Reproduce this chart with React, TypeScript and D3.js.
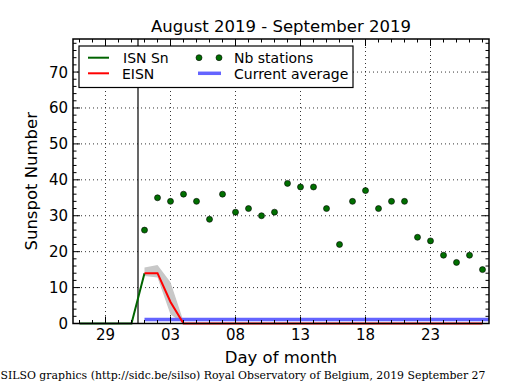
import React from "react";
import * as d3 from "d3";

// day index: Sep 1 = 1, Aug 31 = 0, Aug 29 = -2 ...
const isnDays = [-4, -3, -2, -1, 0, 1];
const isnValues = [0, 0, 0, 0, 0, 14];

const eisnDays = [1, 2, 3, 4, 5, 6, 7, 8, 9, 10, 11, 12, 13, 14, 15, 16, 17, 18, 19, 20, 21, 22, 23, 24, 25, 26, 27];
const eisnValues = [14, 14, 6, 0, 0, 0, 0, 0, 0, 0, 0, 0, 0, 0, 0, 0, 0, 0, 0, 0, 0, 0, 0, 0, 0, 0, 0];

const bandDays = [1, 2, 3, 4];
const bandLow = [13.2, 12.8, 2.5, 0];
const bandHigh = [15.6, 16.3, 11.5, 0.6];

const stationDays = eisnDays;
const stationValues = [26, 35, 34, 36, 34, 29, 36, 31, 32, 30, 31, 39, 38, 38, 32, 22, 34, 37, 32, 34, 34, 24, 23, 19, 17, 19, 15];

const currentAverage = 1.1;
const averageStart = 1;

const xTickDays = [-2, 3, 8, 13, 18, 23];
const xTickLabels = ["29", "03", "08", "13", "18", "23"];
const yTicks = [0, 10, 20, 30, 40, 50, 60, 70];

const monthBoundary = 0.5;

export default function App() {
	const layout = {"width": 515, "height": 390, "left": 73, "right": 489, "top": 39, "bottom": 323.5};

	const xScale = d3.scaleLinear().domain([-4.5, 27.5]).range([layout.left, layout.right]);
	const yScale = d3.scaleLinear().domain([0, 79.2]).range([layout.bottom, layout.top]);

	const line = d3.line<[number, number]>()
		.x(d => xScale(d[0]))
		.y(d => yScale(d[1]));

	const area = d3.area<number>()
		.x((d, i) => xScale(bandDays[i]))
		.y0((d, i) => yScale(bandLow[i]))
		.y1((d, i) => yScale(bandHigh[i]));

	const minorX = d3.range(-4, 28);
	const minorY = d3.range(0, 80, 2);

	const font = "DejaVu Sans, sans-serif";
	const [x0, x1] = xScale.domain();

	return (
		<svg width={layout.width} height={layout.height}
			style={{position: "absolute", left: 0, top: 0, background: "#fff"}}>
			<rect width={layout.width} height={layout.height} fill="#fff" />

			{/* grid */}
			<g stroke="#000" strokeWidth={0.8} strokeDasharray="1,3">
				{xTickDays.map(d => (
					<line key={"gx" + d} x1={xScale(d)} x2={xScale(d)} y1={layout.top} y2={layout.bottom} />
				))}
				{yTicks.map(v => (
					<line key={"gy" + v} x1={layout.left} x2={layout.right} y1={yScale(v)} y2={yScale(v)} />
				))}
			</g>

			{/* uncertainty band */}
			<path d={area(bandDays) || ""} fill="#c8c8c8" stroke="none" />

			{/* month boundary */}
			<line x1={xScale(monthBoundary)} x2={xScale(monthBoundary)} y1={layout.top} y2={layout.bottom}
				stroke="#000" strokeWidth={1.2} />

			{/* ISN */}
			<path d={line(isnDays.map((d, i) => [d, isnValues[i]])) || ""} fill="none" stroke="#006400" strokeWidth={2} />

			{/* current average */}
			<line x1={xScale(averageStart)} x2={xScale(x1)} y1={yScale(currentAverage)} y2={yScale(currentAverage)}
				stroke="#6464ff" strokeWidth={3.5} />

			{/* EISN */}
			<path d={line(eisnDays.map((d, i) => [d, eisnValues[i]])) || ""} fill="none" stroke="#ff0000" strokeWidth={2} />

			{/* stations */}
			{stationDays.map((d, i) => (
				<circle key={"s" + d} cx={xScale(d)} cy={yScale(stationValues[i])} r={3}
					fill="#006f00" stroke="#000" strokeWidth={0.6} />
			))}

			{/* ticks */}
			<g stroke="#000" strokeWidth={1}>
				{minorX.map(d => {
					const major = xTickDays.includes(d);
					const len = major ? 7 : 3.5;
					return (
						<g key={"tx" + d}>
							<line x1={xScale(d)} x2={xScale(d)} y1={layout.bottom} y2={layout.bottom - len} />
							<line x1={xScale(d)} x2={xScale(d)} y1={layout.top} y2={layout.top + len} />
						</g>
					);
				})}
				{minorY.map(v => {
					const major = v % 10 === 0;
					const len = major ? 7 : 3.5;
					return (
						<g key={"ty" + v}>
							<line x1={layout.left} x2={layout.left + len} y1={yScale(v)} y2={yScale(v)} />
							<line x1={layout.right} x2={layout.right - len} y1={yScale(v)} y2={yScale(v)} />
						</g>
					);
				})}
			</g>

			{/* frame */}
			<rect x={layout.left} y={layout.top} width={layout.right - layout.left} height={layout.bottom - layout.top}
				fill="none" stroke="#000" strokeWidth={1.5} />

			{/* tick labels */}
			<g fontFamily={font} fontSize={15} fill="#000">
				{xTickDays.map((d, i) => (
					<text key={"lx" + d} x={xScale(d)} y={340} textAnchor="middle">{xTickLabels[i]}</text>
				))}
				{yTicks.map(v => (
					<text key={"ly" + v} x={68} y={yScale(v) + 5.5} textAnchor="end">{v}</text>
				))}
			</g>

			{/* labels */}
			<text x={(layout.left + layout.right) / 2} y={32} textAnchor="middle" fontFamily={font} fontSize={16.5}>
				August 2019 - September 2019
			</text>
			<text x={(layout.left + layout.right) / 2} y={363} textAnchor="middle" fontFamily={font} fontSize={16.5}>
				Day of month
			</text>
			<text transform={`translate(37, ${(layout.top + layout.bottom) / 2}) rotate(-90)`} textAnchor="middle"
				fontFamily={font} fontSize={16.5}>
				Sunspot Number
			</text>

			{/* legend */}
			<g>
				<rect x={79} y={46} width={274} height={41.5} fill="#fff" stroke="#000" strokeWidth={1.2} />
				<line x1={88} x2={109} y1={57.7} y2={57.7} stroke="#006400" strokeWidth={2} />
				<line x1={88} x2={109} y1={73.3} y2={73.3} stroke="#ff0000" strokeWidth={2} />
				<circle cx={199} cy={57.7} r={3} fill="#006f00" stroke="#000" strokeWidth={0.6} />
				<circle cx={219} cy={57.7} r={3} fill="#006f00" stroke="#000" strokeWidth={0.6} />
				<line x1={198} x2={221} y1={73.3} y2={73.3} stroke="#6464ff" strokeWidth={3.5} />
				<g fontFamily={font} fontSize={14} fill="#000">
					<text x={123} y={62.5}>ISN Sn</text>
					<text x={122} y={78.5}>EISN</text>
					<text x={234} y={62.5}>Nb stations</text>
					<text x={234} y={78.5}>Current average</text>
				</g>
			</g>

			{/* footer */}
			<text x={0.5} y={379} fontFamily="DejaVu Serif, serif" fontSize={10.9} fill="#000">
				SILSO graphics (http://sidc.be/silso) Royal Observatory of Belgium, 2019 September 27
			</text>
		</svg>
	);
}
